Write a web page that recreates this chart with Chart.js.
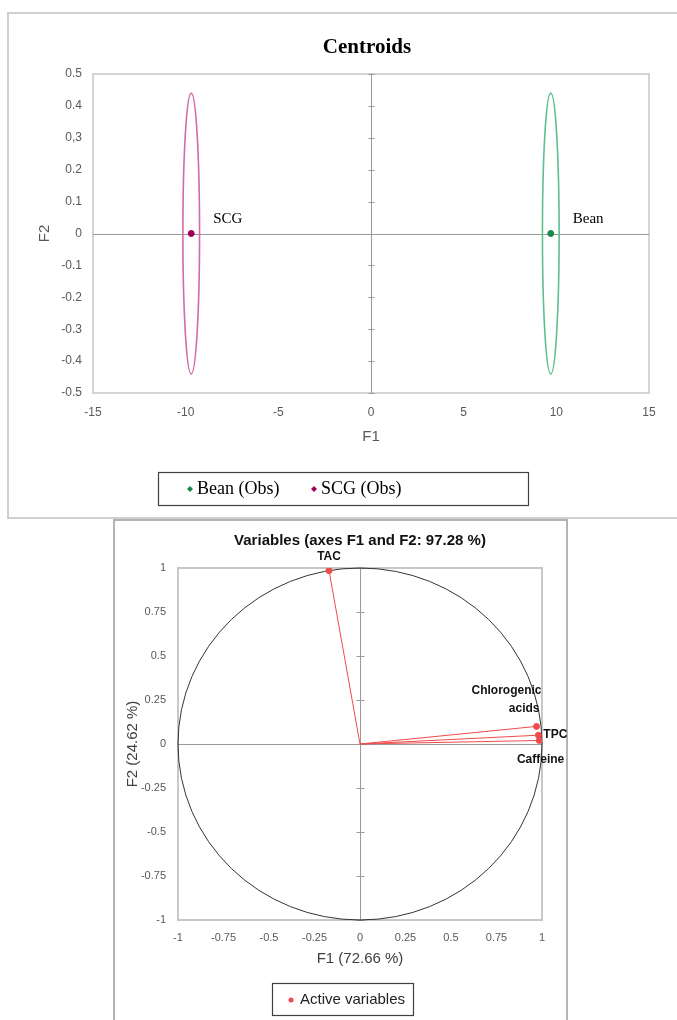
<!DOCTYPE html>
<html>
<head>
<meta charset="utf-8">
<script src="https://cdn.jsdelivr.net/npm/chart.js@4/dist/chart.umd.min.js"></script>
<style>
  html, body { margin: 0; padding: 0; background: #fff; }
  body { position: relative; width: 677px; height: 1020px; overflow: hidden; }
  .frame { position: absolute; box-sizing: border-box; }
  #topFrame { left: 7px; top: 12px; width: 690px; height: 507px; border: 2px solid #cfcfcf; }
  #bottomFrame { left: 113px; top: 519px; width: 455px; height: 520px; border: 2px solid #b4b4b4; }
  canvas { position: absolute; }
  #centroids { left: 0; top: 0; }
  #variables { left: 114px; top: 519px; }
</style>
</head>
<body>
<div class="frame" id="topFrame"></div>
<div class="frame" id="bottomFrame"></div>
<canvas id="centroids" width="677" height="520"></canvas>
<canvas id="variables" width="454" height="501"></canvas>
<script>
// --- centroids (observations) ---
const centroidNames = ['Bean', 'SCG'];
const centroidF1 = [9.7, -9.7];
const centroidF2 = [0, 0];
const ellipseRadiusF1 = [0.45, 0.45];
const ellipseRadiusF2 = [0.44, 0.44];
const centroidColors = ['#168a4c', '#a0005a'];
const ellipseColors = ['#5dbf8e', '#d26aa6'];
const centroidYTicks = ['-0.5', '-0.4', '-0.3', '-0.2', '-0.1', '0', '0.1', '0.2', '0,3', '0.4', '0.5'];
const centroidXTicks = ['-15', '-10', '-5', '0', '5', '10', '15'];

// --- variables (correlation circle) ---
const variableNames = ['TAC', 'Chlorogenic acids', 'TPC', 'Caffeine'];
const variableF1 = [-0.17, 0.97, 0.98, 0.985];
const variableF2 = [0.985, 0.10, 0.05, 0.02];
const circleYTicks = ['-1', '-0.75', '-0.5', '-0.25', '0', '0.25', '0.5', '0.75', '1'];
const circleXTicks = ['-1', '-0.75', '-0.5', '-0.25', '0', '0.25', '0.5', '0.75', '1'];

const tickColor = '#595959';
const sans = "'Liberation Sans', Arial, sans-serif";
const serif = "'Liberation Serif', 'Times New Roman', serif";

// plot frame + zero axes, tick marks only on the vertical one
function drawFrameAndAxes(chart, frameColor, axisColor, yStep, tickLen) {
  const { ctx, chartArea: a, scales: { x, y } } = chart;
  ctx.save();
  ctx.strokeStyle = frameColor;
  ctx.lineWidth = 2;
  ctx.strokeRect(a.left, a.top, a.right - a.left, a.bottom - a.top);
  const x0 = Math.round(x.getPixelForValue(0)) + 0.5;
  const y0 = Math.round(y.getPixelForValue(0)) + 0.5;
  ctx.strokeStyle = axisColor;
  ctx.lineWidth = 1;
  ctx.beginPath();
  ctx.moveTo(a.left, y0); ctx.lineTo(a.right, y0);
  ctx.moveTo(x0, a.top); ctx.lineTo(x0, a.bottom);
  for (let v = y.min; v <= y.max + 1e-9; v += yStep) {
    const py = Math.round(y.getPixelForValue(v)) + 0.5;
    ctx.moveTo(x0 - tickLen, py); ctx.lineTo(x0 + tickLen, py);
  }
  ctx.stroke();
  ctx.restore();
}

const centroidPlugin = {
  id: 'centroidDecor',
  beforeDatasetsDraw(chart) {
    drawFrameAndAxes(chart, '#d4d4d4', '#999999', 0.1, 3);
    const { ctx, scales: { x, y } } = chart;
    ctx.save();
    ctx.lineWidth = 1.6;
    centroidNames.forEach((n, i) => {
      const cx = x.getPixelForValue(centroidF1[i]);
      const cy = y.getPixelForValue(centroidF2[i]);
      const rx = Math.abs(x.getPixelForValue(centroidF1[i] + ellipseRadiusF1[i]) - cx);
      const ry = Math.abs(y.getPixelForValue(centroidF2[i] + ellipseRadiusF2[i]) - cy);
      ctx.strokeStyle = ellipseColors[i];
      ctx.beginPath();
      ctx.ellipse(cx, cy, rx, ry, 0, 0, Math.PI * 2);
      ctx.stroke();
    });
    ctx.restore();
  },
  afterDraw(chart) {
    const { ctx, scales: { x, y } } = chart;
    ctx.save();
    ctx.fillStyle = '#000';
    ctx.textAlign = 'center';
    ctx.textBaseline = 'middle';
    ctx.font = `bold 21px ${serif}`;
    ctx.fillText('Centroids', 367, 48);
    ctx.font = `15px ${serif}`;
    ctx.textAlign = 'left';
    centroidNames.forEach((n, i) => {
      const px = x.getPixelForValue(centroidF1[i]);
      const py = y.getPixelForValue(centroidF2[i]);
      ctx.fillText(n, px + 22, py - 14);
    });
    // legend box
    ctx.strokeStyle = '#404040';
    ctx.lineWidth = 1.2;
    ctx.strokeRect(158.5, 472.5, 370, 33);
    ctx.font = `18px ${serif}`;
    const legendX = [190, 314];
    centroidNames.forEach((n, i) => {
      const lx = legendX[i], ly = 489;
      ctx.fillStyle = centroidColors[i];
      ctx.beginPath();
      ctx.moveTo(lx, ly - 3); ctx.lineTo(lx + 3, ly); ctx.lineTo(lx, ly + 3); ctx.lineTo(lx - 3, ly);
      ctx.closePath(); ctx.fill();
      ctx.fillStyle = '#000';
      ctx.fillText(n + ' (Obs)', lx + 7, ly);
    });
    ctx.restore();
  }
};

new Chart(document.getElementById('centroids'), {
  type: 'scatter',
  data: {
    datasets: centroidNames.map((n, i) => ({
      label: n + ' (Obs)',
      data: [{ x: centroidF1[i], y: centroidF2[i] }],
      pointStyle: 'circle',
      pointRadius: 3,
      backgroundColor: centroidColors[i],
      borderColor: centroidColors[i]
    }))
  },
  options: {
    responsive: false,
    animation: false,
    layout: { padding: { left: 0, top: 74, right: 28, bottom: 0 } },
    plugins: { legend: { display: false }, tooltip: { enabled: false }, title: { display: false } },
    scales: {
      x: {
        type: 'linear', min: -15, max: 15,
        ticks: { stepSize: 5, padding: 12, color: tickColor, font: { family: sans, size: 12 },
          callback: (v, i) => centroidXTicks[i] },
        grid: { display: false, drawTicks: false },
        border: { display: false },
        title: { display: true, text: 'F1', color: tickColor, font: { family: sans, size: 15 },
          padding: { top: 0, bottom: 74 } },
        afterFit(s) { s.height = 127; }
      },
      y: {
        type: 'linear', min: -0.5, max: 0.5,
        ticks: { stepSize: 0.1, padding: 11, color: tickColor, font: { family: sans, size: 12 },
          callback: (v, i) => centroidYTicks[i] },
        grid: { display: false, drawTicks: false },
        border: { display: false },
        title: { display: true, text: 'F2', color: tickColor, font: { family: sans, size: 15 },
          padding: { top: 36, bottom: 0 } },
        afterFit(s) { s.width = 93; }
      }
    }
  },
  plugins: [centroidPlugin]
});

const variablePlugin = {
  id: 'variableDecor',
  beforeDatasetsDraw(chart) {
    drawFrameAndAxes(chart, '#c8c8c8', '#9a9a9a', 0.25, 4);
    const { ctx, scales: { x, y } } = chart;
    const cx = x.getPixelForValue(0), cy = y.getPixelForValue(0);
    ctx.save();
    ctx.strokeStyle = '#333';
    ctx.lineWidth = 1;
    ctx.beginPath();
    ctx.ellipse(cx, cy, x.getPixelForValue(1) - cx, cy - y.getPixelForValue(1), 0, 0, Math.PI * 2);
    ctx.stroke();
    ctx.strokeStyle = '#f04b4b';
    ctx.beginPath();
    variableNames.forEach((n, i) => {
      ctx.moveTo(cx, cy);
      ctx.lineTo(x.getPixelForValue(variableF1[i]), y.getPixelForValue(variableF2[i]));
    });
    ctx.stroke();
    ctx.restore();
  },
  afterDraw(chart) {
    const { ctx, scales: { x, y } } = chart;
    ctx.save();
    ctx.fillStyle = '#111';
    ctx.textBaseline = 'middle';
    ctx.textAlign = 'center';
    ctx.font = `bold 15px ${sans}`;
    ctx.fillText('Variables (axes F1 and F2: 97.28 %)', 246, 22);
    ctx.font = `bold 12px ${sans}`;
    const px = variableF1.map(v => x.getPixelForValue(v));
    const py = variableF2.map(v => y.getPixelForValue(v));
    ctx.fillText('TAC', px[0], py[0] - 14);
    ctx.textAlign = 'right';
    ctx.fillText('Chlorogenic', px[1] + 5, py[1] - 36);
    ctx.fillText('acids', px[1] + 3, py[1] - 18);
    ctx.textAlign = 'left';
    ctx.fillText('TPC', px[2] + 5, py[2] - 1);
    ctx.textAlign = 'right';
    ctx.fillText('Caffeine', px[3] + 25, py[3] + 19);
    // legend box
    ctx.strokeStyle = '#404040';
    ctx.lineWidth = 1.2;
    ctx.strokeRect(158.5, 464.5, 141, 32);
    ctx.fillStyle = '#f04b4b';
    ctx.beginPath();
    ctx.arc(177, 481, 2.5, 0, Math.PI * 2);
    ctx.fill();
    ctx.fillStyle = '#222';
    ctx.textAlign = 'left';
    ctx.font = `15px ${sans}`;
    ctx.fillText('Active variables', 186, 481);
    ctx.restore();
  }
};

new Chart(document.getElementById('variables'), {
  type: 'scatter',
  data: {
    datasets: [{
      label: 'Active variables',
      data: variableNames.map((n, i) => ({ x: variableF1[i], y: variableF2[i] })),
      pointRadius: 3,
      backgroundColor: '#f04b4b',
      borderColor: '#f04b4b'
    }]
  },
  options: {
    responsive: false,
    animation: false,
    layout: { padding: { left: 0, top: 49, right: 26, bottom: 0 } },
    plugins: { legend: { display: false }, tooltip: { enabled: false }, title: { display: false } },
    scales: {
      x: {
        type: 'linear', min: -1, max: 1,
        ticks: { stepSize: 0.25, padding: 11, color: tickColor, font: { family: sans, size: 11 },
          callback: (v, i) => circleXTicks[i] },
        grid: { display: false, drawTicks: false },
        border: { display: false },
        title: { display: true, text: 'F1 (72.66 %)', color: '#404040', font: { family: sans, size: 15 },
          padding: { top: 0, bottom: 52 } },
        afterFit(s) { s.height = 100; }
      },
      y: {
        type: 'linear', min: -1, max: 1,
        ticks: { stepSize: 0.25, padding: 12, color: tickColor, font: { family: sans, size: 11 },
          callback: (v, i) => circleYTicks[i] },
        grid: { display: false, drawTicks: false },
        border: { display: false },
        title: { display: true, text: 'F2 (24.62 %)', color: '#404040', font: { family: sans, size: 15 },
          padding: { top: 10, bottom: 0 } },
        afterFit(s) { s.width = 64; }
      }
    }
  },
  plugins: [variablePlugin]
});
</script>
</body>
</html>
